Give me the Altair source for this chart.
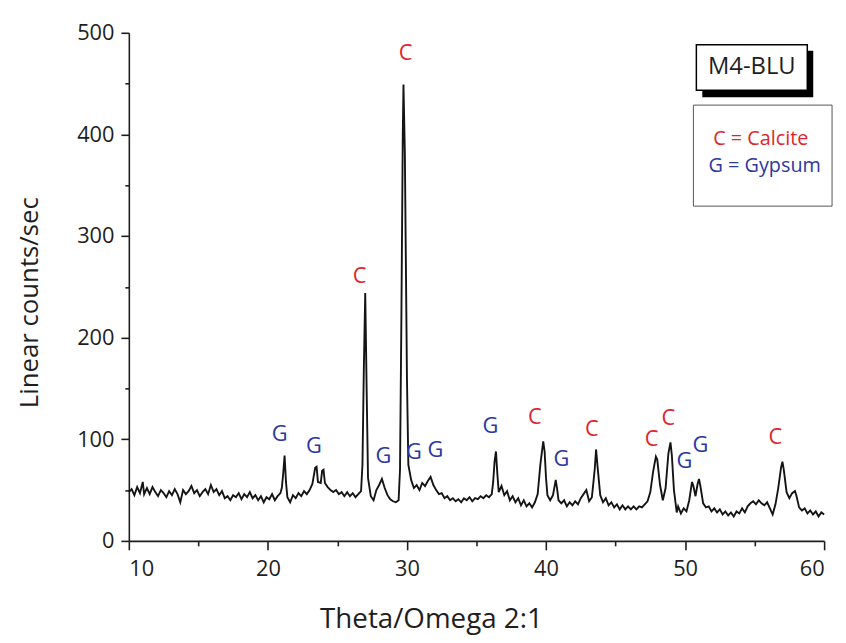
import altair as alt
import pandas as pd

# ---- XRD pattern (2-theta in degrees, counts/sec) ----
two_theta = [
    10.0, 10.2, 10.4, 10.6, 10.8, 11.0, 11.1, 11.3, 11.5, 11.7,
    11.9, 12.1, 12.3, 12.5, 12.7, 12.9, 13.1, 13.3, 13.5, 13.7,
    13.9, 14.1, 14.3, 14.5, 14.7, 14.9, 15.1, 15.3, 15.5, 15.7,
    15.9, 16.1, 16.3, 16.5, 16.7, 16.9, 17.1, 17.3, 17.5, 17.7,
    17.9, 18.1, 18.3, 18.5, 18.7, 18.9, 19.1, 19.3, 19.5, 19.7,
    19.9, 20.1, 20.3, 20.5, 20.7, 20.9, 21.0, 21.1, 21.2, 21.3,
    21.4, 21.6, 21.8, 22.0, 22.2, 22.4, 22.6, 22.8, 23.0, 23.2,
    23.4, 23.5, 23.6, 23.8, 23.9, 24.0, 24.1, 24.3, 24.5, 24.7,
    24.9, 25.1, 25.3, 25.5, 25.7, 25.9, 26.1, 26.3, 26.5, 26.7,
    26.8, 26.9, 27.0, 27.1, 27.2, 27.4, 27.6, 27.8, 28.0, 28.2,
    28.4, 28.6, 28.8, 29.0, 29.2, 29.4, 29.5, 29.6, 29.7, 29.75,
    29.85, 30.0, 30.1, 30.3, 30.5, 30.7, 30.9, 31.1, 31.3, 31.5,
    31.7, 31.9, 32.1, 32.3, 32.5, 32.7, 32.9, 33.1, 33.3, 33.5,
    33.7, 33.9, 34.1, 34.3, 34.5, 34.7, 34.9, 35.1, 35.3, 35.5,
    35.7, 35.9, 36.1, 36.2, 36.3, 36.4, 36.5, 36.6, 36.8, 37.0,
    37.2, 37.4, 37.6, 37.8, 38.0, 38.2, 38.4, 38.6, 38.8, 39.0,
    39.2, 39.4, 39.6, 39.8, 39.9, 40.0, 40.1, 40.3, 40.5, 40.7,
    40.8, 40.9, 41.1, 41.3, 41.5, 41.7, 41.9, 42.1, 42.3, 42.5,
    42.7, 42.9, 43.1, 43.3, 43.5, 43.6, 43.7, 43.9, 44.1, 44.3,
    44.5, 44.7, 44.9, 45.1, 45.3, 45.5, 45.7, 45.9, 46.1, 46.3,
    46.5, 46.7, 46.9, 47.1, 47.3, 47.5, 47.7, 47.9, 48.0, 48.2,
    48.4, 48.6, 48.8, 48.95, 49.05, 49.2, 49.4, 49.5, 49.7, 49.9,
    50.1, 50.3, 50.5, 50.6, 50.75, 50.9, 51.0, 51.1, 51.3, 51.5,
    51.7, 51.9, 52.1, 52.3, 52.5, 52.7, 52.9, 53.1, 53.3, 53.5,
    53.7, 53.9, 54.1, 54.3, 54.5, 54.7, 54.9, 55.1, 55.3, 55.5,
    55.7, 55.9, 56.1, 56.3, 56.5, 56.7, 56.9, 57.0, 57.1, 57.3,
    57.5, 57.7, 57.9, 58.0, 58.2, 58.4, 58.6, 58.8, 59.0, 59.2,
    59.4, 59.6, 59.8, 60.0,
]
counts = [
    48, 51, 45, 53, 47, 58, 46, 52, 46, 53,
    48, 44, 50, 47, 43, 49, 45, 51, 46, 38,
    50, 46, 49, 54, 47, 50, 44, 48, 51, 46,
    55, 48, 51, 45, 49, 42, 44, 40, 45, 43,
    47, 41, 46, 43, 48, 42, 45, 40, 44, 38,
    43, 41, 46, 40, 44, 47, 52, 66, 84, 58,
    43, 38, 45, 42, 47, 44, 49, 46, 50, 56,
    72, 73, 58, 57, 69, 70, 57, 53, 50, 48,
    50, 46, 48, 44, 48, 44, 47, 43, 46, 49,
    75, 170, 244, 150, 62, 44, 40, 50, 55, 61,
    52, 45, 41, 39, 38, 40, 70, 220, 400, 449,
    380, 160, 75, 60, 52, 55, 50, 57, 54, 59,
    63, 55, 50, 46, 47, 42, 44, 40, 42, 39,
    41, 38, 42, 40, 43, 39, 42, 41, 44, 42,
    45, 43, 46, 58, 78, 88, 66, 48, 54, 45,
    49, 40, 44, 38, 42, 35, 40, 34, 37, 33,
    38, 46, 76, 98, 88, 62, 45, 40, 45, 60,
    51, 40, 37, 40, 34, 38, 35, 39, 36, 42,
    46, 50, 39, 43, 70, 90, 74, 45, 38, 42,
    35, 38, 33, 36, 31, 35, 31, 34, 31, 34,
    31, 34, 33, 36, 39, 48, 68, 83, 80, 55,
    40, 52, 86, 97, 84, 50, 28, 34, 27, 32,
    29, 40, 58, 54, 44, 56, 61, 54, 37, 33,
    34, 29, 32, 28, 31, 26, 29, 25, 28, 24,
    29, 27, 32, 28, 34, 37, 39, 36, 40, 37,
    35, 38, 32, 26, 36, 52, 72, 78, 70, 48,
    42, 47, 49, 45, 33, 30, 32, 27, 30, 26,
    29, 24, 28, 26,
]

# ---- peak annotations ----
peak_letter = ["G", "G", "C", "G", "C", "G", "G", "G", "C", "G", "C", "C", "C", "G", "G", "C"]
peak_mineral = ["Gypsum", "Gypsum", "Calcite", "Gypsum", "Calcite", "Gypsum", "Gypsum", "Gypsum",
                "Calcite", "Gypsum", "Calcite", "Calcite", "Calcite", "Gypsum", "Gypsum", "Calcite"]
peak_x = [20.85, 23.3, 26.6, 28.3, 29.9, 30.5, 32.05, 36.0, 39.2, 41.1, 43.3, 47.6, 48.8, 49.95, 51.1, 56.5]
peak_y = [105, 93, 261, 83, 480, 87, 89, 113, 122, 81, 110, 100, 121, 79, 94, 102]

sample_name = ["M4-BLU"]
legend_labels = ["C = Calcite", "G = Gypsum"]
minerals = ["Calcite", "Gypsum"]

RED = "#e0262c"
BLUE = "#2b389e"
FONT = "Open Sans"
INK = "#1e1e1e"

df = pd.DataFrame({"theta": two_theta, "counts": counts})
peaks = pd.DataFrame({"t": peak_letter, "mineral": peak_mineral, "x": peak_x, "y": peak_y})

color_scale = alt.Scale(domain=minerals, range=[RED, BLUE])

x_axis = alt.Axis(
    values=list(range(10, 61, 5)),
    labelExpr="datum.value % 10 === 0 ? datum.label : ''",
    tickSize={"expr": "datum.value % 10 === 0 ? 9 : 5"},
    labelPadding=9,
    labelFont=FONT, labelFontSize=22, labelColor=INK,
    domainColor=INK, tickColor=INK, domainWidth=1.6, tickWidth=1.6,
    grid=False,
    title="Theta/Omega 2:1", titleFont=FONT, titleFontSize=28, titleFontWeight="normal",
    titleColor=INK, titleX=305, titleY=79, titleBaseline="middle", titleAlign="center",
)
y_axis = alt.Axis(
    values=list(range(0, 501, 50)),
    labelExpr="datum.value % 100 === 0 ? datum.label : ''",
    tickSize={"expr": "datum.value % 100 === 0 ? 8 : 4"},
    labelPadding=7,
    labelFont=FONT, labelFontSize=22, labelColor=INK,
    domainColor=INK, tickColor=INK, domainWidth=1.6, tickWidth=1.6,
    grid=False,
    title="Linear counts/sec", titleFont=FONT, titleFontSize=26, titleFontWeight="normal",
    titleColor=INK, titleX=-100, titleY=272, titleBaseline="middle", titleAlign="center",
    titleAngle=270,
)

line = alt.Chart(df).mark_line(color="#141414", strokeWidth=1.9).encode(
    x=alt.X("theta:Q", scale=alt.Scale(domain=[10, 60], nice=False), axis=x_axis),
    y=alt.Y("counts:Q", scale=alt.Scale(domain=[0, 500], nice=False), axis=y_axis),
)

labels = alt.Chart(peaks).mark_text(font=FONT, fontSize=22, baseline="middle", align="center").encode(
    x="x:Q", y="y:Q", text="t:N",
    color=alt.Color("mineral:N", scale=color_scale, legend=None),
)

one = pd.DataFrame({"name": sample_name})
shadow = alt.Chart(one).mark_rect(color="black").encode(
    x=alt.value(579), x2=alt.value(691), y=alt.value(18), y2=alt.value(65))
box1 = alt.Chart(one).mark_rect(fill="white", stroke="black", strokeWidth=1.5).encode(
    x=alt.value(573), x2=alt.value(685), y=alt.value(12), y2=alt.value(58))
name_text = alt.Chart(one).mark_text(font=FONT, fontSize=24, color=INK, baseline="middle", align="center").encode(
    x=alt.value(629), y=alt.value(35), text="name:N")

leg = pd.DataFrame({"label": legend_labels, "mineral": minerals})
box2 = alt.Chart(one).mark_rect(fill="white", stroke="#555555", strokeWidth=1).encode(
    x=alt.value(570), x2=alt.value(710), y=alt.value(73), y2=alt.value(175))
leg_calcite = alt.Chart(leg).transform_filter(alt.datum.mineral == "Calcite").mark_text(
    font=FONT, fontSize=20, baseline="middle", align="center", color=RED
).encode(x=alt.value(638), y=alt.value(107), text="label:N")
leg_gypsum = alt.Chart(leg).transform_filter(alt.datum.mineral == "Gypsum").mark_text(
    font=FONT, fontSize=20, baseline="middle", align="center", color=BLUE
).encode(x=alt.value(642), y=alt.value(135), text="label:N")

chart = alt.layer(line, labels, shadow, box1, name_text, box2, leg_calcite, leg_gypsum).properties(
    width=702, height=513,
    autosize=alt.AutoSizeParams(type="none"),
    padding={"left": 122, "top": 22, "right": 14, "bottom": 95},
).configure_view(stroke=None)

chart.save("out.html", embed_options={"renderer": "svg", "actions": False})
